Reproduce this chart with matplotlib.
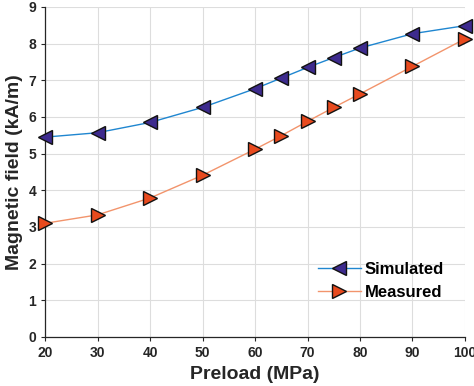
import matplotlib
matplotlib.use("Agg")
import matplotlib.pyplot as plt

preload = [20, 30, 40, 50, 60, 65, 70, 75, 80, 90, 100]
simulated = [5.45, 5.57, 5.85, 6.26, 6.77, 7.06, 7.35, 7.62, 7.88, 8.27, 8.49]
measured = [3.10, 3.33, 3.79, 4.41, 5.12, 5.49, 5.88, 6.26, 6.63, 7.38, 8.13]
xticks = [20, 30, 40, 50, 60, 70, 80, 90, 100]
yticks = [0, 1, 2, 3, 4, 5, 6, 7, 8, 9]

plt.rcParams['font.family'] = ['Liberation Sans', 'DejaVu Sans']
plt.rcParams['font.weight'] = 'bold'

fig = plt.figure(figsize=(4.74, 3.86), dpi=100)
ax = fig.add_axes([0.095, 0.127, 0.886, 0.855])

ax.plot(preload, simulated, color='#1f86d0', lw=1.0, marker='<', ms=10.5,
        mfc='#3d2b8e', mec='#111111', mew=1.0, label='Simulated', zorder=3, clip_on=False)
ax.plot(preload, measured, color='#f2946c', lw=1.0, marker='>', ms=10.5,
        mfc='#e84a1e', mec='#111111', mew=1.0, label='Measured', zorder=3, clip_on=False)

ax.set_xlim(20, 100)
ax.set_ylim(0, 9)
ax.set_xticks(xticks)
ax.set_yticks(yticks)
ax.grid(True, color='#dddddd', lw=0.8)
ax.set_axisbelow(True)
for s in ['top', 'right']:
    ax.spines[s].set_visible(False)
for s in ['left', 'bottom']:
    ax.spines[s].set_color('#262626')
    ax.spines[s].set_linewidth(0.9)
ax.tick_params(labelsize=10, colors='#262626', length=3, width=0.8)
for lab in ax.get_xticklabels() + ax.get_yticklabels():
    lab.set_fontweight('bold')
ax.set_xlabel('Preload (MPa)', fontsize=14, fontweight='bold', color='#262626', labelpad=4)
ax.set_ylabel('Magnetic field (kA/m)', fontsize=14, fontweight='bold', color='#262626', labelpad=4)

leg = ax.legend(loc='lower right', bbox_to_anchor=(0.985, 0.066), frameon=False,
                fontsize=12, handlelength=2.6, handletextpad=0.2, labelspacing=0.5)
for t in leg.get_texts():
    t.set_fontweight('bold')

fig.savefig('out.png', dpi=100)
